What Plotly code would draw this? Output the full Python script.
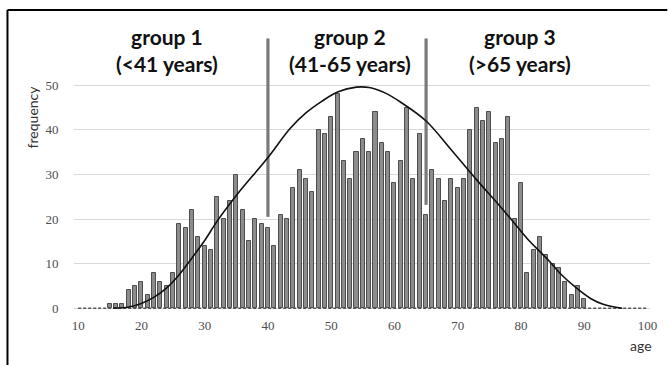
import plotly.graph_objects as go

# Age histogram: number of patients per year of age
ages = list(range(15, 91))
counts = [1, 1, 1, 4, 5, 6, 3, 8, 6, 5, 8,            # 15-25
          19, 18, 22, 16, 14, 13, 25, 20, 24, 30,     # 26-35
          22, 15, 20, 19, 18, 14, 21, 20, 27, 31,     # 36-45
          29, 26, 40, 39, 43, 48, 33, 29, 35, 38,     # 46-55
          35, 44, 37, 35, 28, 33, 45, 29, 39, 21,     # 56-65
          31, 29, 24, 29, 27, 29, 40, 45, 42, 44,     # 66-75
          37, 38, 43, 20, 28, 8, 13, 16, 12, 10,      # 76-85
          9, 6, 3, 5, 2]                              # 86-90

# Fitted bell-shaped trend line (age, frequency)
curve_age = [15.5, 18, 20, 22, 24, 26, 28, 30, 32, 35, 40, 43.5, 46, 48.5, 51,
             54, 56, 58.5, 61, 65, 69, 73, 76, 78.6, 81, 83, 84.6, 86.2, 88.8,
             91, 93, 96]
curve_freq = [0, 0.3, 1.1, 2.5, 4.6, 7.6, 11.3, 15.2, 19.6, 25.3, 33.8, 40.3,
              43.8, 46.4, 48.5, 49.6, 49.5, 48.3, 46.2, 42, 35.5, 28.8, 24,
              19.7, 15.6, 12.7, 10.4, 7.8, 4.5, 2.2, 0.9, 0]

# Group boundaries
divider_age = [40, 65]
divider_bottom = [20.5, 23.2]
divider_top = 60.5

group_labels = ["group 1<br>(<41 years)", "group 2<br>(41-65 years)",
                "group 3<br>(>65 years)"]
group_pos = [0.162, 0.479, 0.774]

x_ticks = list(range(10, 101, 10))
y_ticks = list(range(0, 51, 10))
x_range = [9.34, 100.4]
y_range = [-0.38, 62.4]

fig = go.Figure()

# dashed zero baseline
fig.add_trace(go.Scatter(
    x=[x_ticks[0], x_ticks[-1]], y=[0, 0], mode="lines",
    line=dict(color="#555555", width=1.5, dash="3px,2px"),
    hoverinfo="skip", showlegend=False))

fig.add_trace(go.Bar(
    x=ages, y=counts, width=0.64,
    marker=dict(color="#8c8c8c", line=dict(color="#4d4d4d", width=1)),
    showlegend=False))

for a, b in zip(divider_age, divider_bottom):
    fig.add_trace(go.Scatter(
        x=[a, a], y=[b, divider_top], mode="lines",
        line=dict(color="#7a7a7a", width=3.2),
        hoverinfo="skip", showlegend=False))

fig.add_trace(go.Scatter(
    x=curve_age, y=curve_freq, mode="lines", line_shape="spline",
    line=dict(color="#111111", width=1.6),
    hoverinfo="skip", showlegend=False))

annotations = []
for text, px in zip(group_labels, group_pos):
    annotations.append(dict(
        text="<b>" + text + "</b>", x=px, y=0.930, xref="paper", yref="paper",
        showarrow=False, xanchor="center", yanchor="middle", align="center",
        font=dict(family="Lato, Open Sans, sans-serif", size=21, color="#111111")))

annotations.append(dict(
    text="frequency", x=-0.0724, y=0.689, xref="paper", yref="paper",
    textangle=-90, showarrow=False, xanchor="center", yanchor="middle",
    font=dict(family="Lato, Open Sans, sans-serif", size=14, color="#333333")))
annotations.append(dict(
    text="age", x=0.984, y=-0.125, xref="paper", yref="paper",
    showarrow=False, xanchor="center", yanchor="middle",
    font=dict(family="Lato, Open Sans, sans-serif", size=14, color="#333333")))

# frame along the left and top edges
shapes = [
    dict(type="line", xref="paper", yref="paper", x0=-0.1155, x1=-0.1155,
         y0=1.0714, y1=-0.2, line=dict(color="black", width=2)),
    dict(type="line", xref="paper", yref="paper", x0=-0.1155, x1=1.03,
         y0=1.0714, y1=1.0714, line=dict(color="black", width=2)),
]

fig.update_layout(
    width=669, height=365,
    margin=dict(l=74, r=15, t=30, b=55),
    paper_bgcolor="white", plot_bgcolor="white",
    bargap=0, annotations=annotations, shapes=shapes,
    xaxis=dict(range=x_range, tickvals=x_ticks, showgrid=False, zeroline=False,
               showline=False, ticks="outside", ticklen=3,
               tickcolor="rgba(0,0,0,0)",
               tickfont=dict(family="Liberation Serif, serif", size=13,
                             color="#4d4d4d")),
    yaxis=dict(range=y_range, tickvals=y_ticks, showgrid=True,
               gridcolor="#d9d9d9", gridwidth=1, zeroline=False,
               showline=False, ticks="outside", ticklen=12,
               tickcolor="rgba(0,0,0,0)",
               tickfont=dict(family="Liberation Serif, serif", size=13,
                             color="#4d4d4d")),
)

fig.write_html("out.html")
